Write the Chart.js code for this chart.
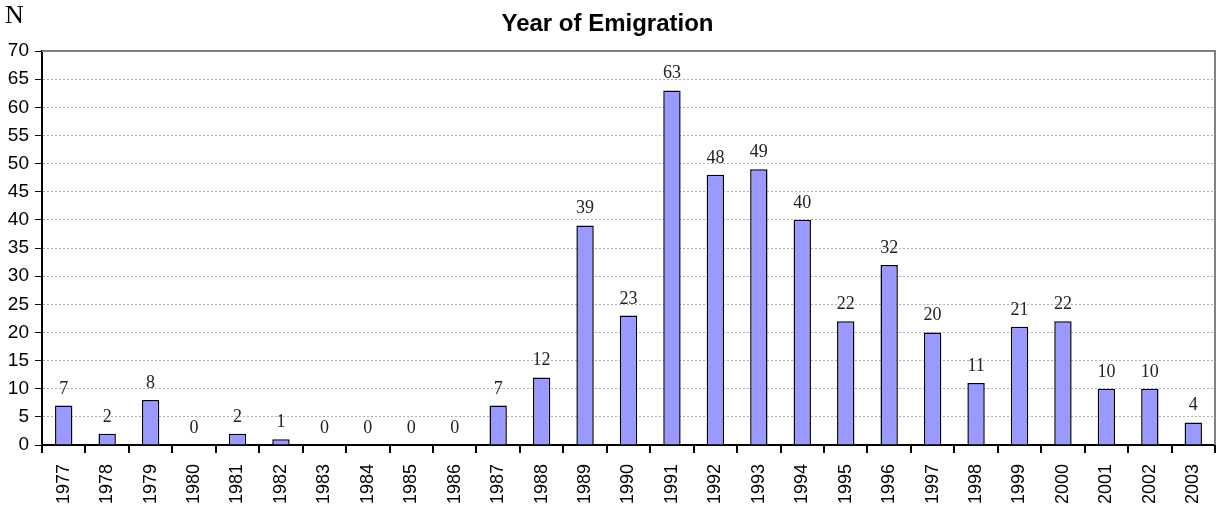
<!DOCTYPE html>
<html lang="en">
<head>
<meta charset="UTF-8">
<script src="https://cdn.jsdelivr.net/npm/chart.js@4.4.0/dist/chart.umd.min.js"></script>
<title>Year of Emigration</title>
<style>
  html, body { margin: 0; padding: 0; background: #fff; }
  #wrap { width: 1217px; height: 510px; position: relative; }
</style>
</head>
<body>
<div id="wrap"><canvas id="graph" width="1217" height="510"></canvas></div>
<script>
const years = ['1977','1978','1979','1980','1981','1982','1983','1984','1985','1986','1987','1988','1989','1990',
               '1991','1992','1993','1994','1995','1996','1997','1998','1999','2000','2001','2002','2003'];
const counts = [7, 2, 8, 0, 2, 1, 0, 0, 0, 0, 7, 12, 39, 23, 63, 48, 49, 40, 22, 32, 20, 11, 21, 22, 10, 10, 4];
const yMax = 70;
const yStep = 5;

// value labels above bars, the "N" caption and the grey frame
const extras = {
    id: 'extras',
    afterDatasetsDraw(chart) {
        const ctx = chart.ctx;
        const area = chart.chartArea;
        ctx.save();
        ctx.strokeStyle = '#808080';
        ctx.lineWidth = 2;
        ctx.beginPath();
        ctx.moveTo(area.left, area.top);
        ctx.lineTo(area.right, area.top);
        ctx.lineTo(area.right, area.bottom);
        ctx.stroke();

        ctx.fillStyle = '#222';
        ctx.font = '18px "Liberation Serif", "Times New Roman", serif';
        ctx.textAlign = 'center';
        ctx.textBaseline = 'alphabetic';
        const meta = chart.getDatasetMeta(0);
        meta.data.forEach((bar, i) => {
            ctx.fillText(String(counts[i]), bar.x, bar.y - 12);
        });

        ctx.fillStyle = '#000';
        ctx.font = '26px "Liberation Serif", "Times New Roman", serif';
        ctx.textAlign = 'left';
        ctx.fillText('N', 5, 23);
        ctx.restore();
    }
};

const ctx = document.getElementById('graph').getContext('2d');
new Chart(ctx, {
    type: 'bar',
    data: {
        labels: years,
        datasets: [{
            data: counts,
            backgroundColor: '#9999FF',
            borderColor: '#000',
            borderWidth: 1.5,
            barPercentage: 0.4,
            categoryPercentage: 1
        }]
    },
    options: {
        responsive: false,
        animation: false,
        layout: { padding: { left: 0, right: 2, top: 0, bottom: 0 } },
        plugins: {
            legend: { display: false },
            tooltip: { enabled: false },
            title: {
                display: true,
                text: 'Year of Emigration',
                color: '#000',
                font: { family: '"Liberation Sans", Arial, sans-serif', size: 24, weight: 'bold', lineHeight: 1.2 },
                padding: { top: 10, bottom: 12.2 }
            }
        },
        scales: {
            x: {
                afterFit(scale) {
                    scale.height = 65;
                    scale.paddingLeft = 0;
                    scale.paddingRight = 0;
                },
                grid: { offset: true, drawOnChartArea: false, tickLength: 8, tickColor: '#000', lineWidth: 2 },
                border: { color: '#000', width: 2 },
                ticks: {
                    minRotation: 90, maxRotation: 90, autoSkip: false, color: '#000', padding: 11,
                    font: { family: '"Liberation Sans", Arial, sans-serif', size: 18 }
                }
            },
            y: {
                min: 0, max: yMax,
                afterFit(scale) { scale.width = 42; },
                grid: {
                    color: '#b0b0b0', tickColor: '#000', tickLength: 7, lineWidth: 1
                },
                border: { color: '#000', width: 2, dash: [2, 2] },
                ticks: {
                    stepSize: yStep, color: '#000', padding: 6,
                    font: { family: '"Liberation Sans", Arial, sans-serif', size: 19 }
                }
            }
        }
    },
    plugins: [extras]
});
</script>
</body>
</html>
